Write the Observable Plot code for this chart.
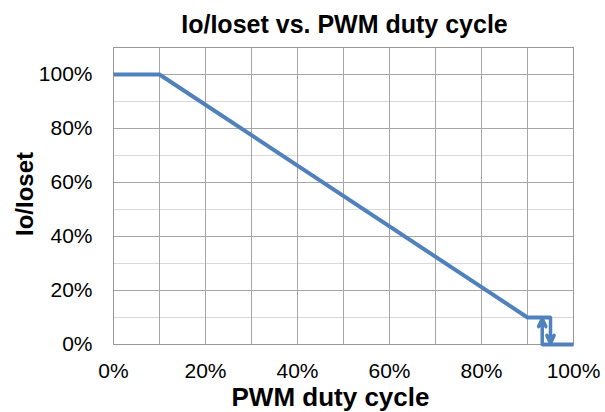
<!DOCTYPE html>
<html>
<head>
<meta charset="utf-8">
<script src="https://cdn.jsdelivr.net/npm/d3@7"></script>
<script src="https://cdn.jsdelivr.net/npm/@observablehq/plot@0.6"></script>
<style>
  html, body { margin: 0; padding: 0; background: #fff; }
</style>
</head>
<body>
<div id="chart"></div>
<script>
// Data
const duty = [0, 0.10, 0.90, 0.95];          // PWM duty cycle (main curve)
const ratio = [1.00, 1.00, 0.10, 0.10];      // Io/Ioset
const offDuty = [0.932, 1.00];               // bottom segment after switch-off
const offRatio = [0, 0];
const hystLow = 0.932;                        // turn-on threshold (arrow up)
const hystHigh = 0.95;                        // turn-off threshold (arrow down)
const hystLevel = 0.10;
const xTicks = [0, 0.2, 0.4, 0.6, 0.8, 1.0];
const yTicks = [0, 0.2, 0.4, 0.6, 0.8, 1.0];
const yMinor = [0.1, 0.3, 0.5, 0.7, 0.9];
const xGrid = [0.1, 0.2, 0.3, 0.4, 0.5, 0.6, 0.7, 0.8, 0.9];

const mainLine = duty.map((d, i) => ({x: d, y: ratio[i]}));
const offLine = offDuty.map((d, i) => ({x: d, y: offRatio[i]}));
const arrows = [
  {x1: hystHigh, y1: hystLevel, x2: hystHigh, y2: 0.005},
  {x1: hystLow, y1: 0, x2: hystLow, y2: hystLevel - 0.005}
];

const blue = "#4F81BD";
const font = "Liberation Sans, Arial, sans-serif";

const chart = Plot.plot({
  width: 605,
  height: 412,
  marginLeft: 113,
  marginRight: 32,
  marginTop: 47,
  marginBottom: 68,
  style: {fontFamily: font, color: "#000", background: "#fff", overflow: "visible"},
  x: {domain: [0, 1]},
  y: {domain: [0, 1.1]},
  marks: [
    Plot.gridY(yMinor, {stroke: "#d9d9d9", strokeOpacity: 1}),
    Plot.gridY(yTicks, {stroke: "#a6a6a6", strokeOpacity: 1}),
    Plot.gridX(xGrid, {stroke: "#a6a6a6", strokeOpacity: 1}),
    Plot.frame({stroke: "#999"}),
    Plot.axisX(xTicks, {tickSize: 0, tickPadding: 19, tickFormat: d3.format(".0%"), fontSize: 21, label: null}),
    Plot.axisY(yTicks, {tickSize: 0, tickPadding: 21, tickFormat: d3.format(".0%"), fontSize: 21, label: null}),
    Plot.line(mainLine, {x: "x", y: "y", stroke: blue, strokeWidth: 4, strokeLinejoin: "miter", strokeLinecap: "butt"}),
    Plot.line(offLine, {x: "x", y: "y", stroke: blue, strokeWidth: 4, strokeLinecap: "butt"}),
    Plot.arrow(arrows, {x1: "x1", y1: "y1", x2: "x2", y2: "y2", stroke: blue, strokeWidth: 3.5, headLength: 9, headAngle: 50}),
    Plot.text(["Io/Ioset vs. PWM duty cycle"], {frameAnchor: "top", lineAnchor: "middle", textAnchor: "middle", dx: 1, dy: -23, fontSize: 25, fontWeight: "bold", fill: "#000"}),
    Plot.text(["PWM duty cycle"], {frameAnchor: "bottom", lineAnchor: "middle", textAnchor: "middle", dx: -13, dy: 53, fontSize: 26, fontWeight: "bold", fill: "#000"}),
    Plot.text(["Io/Ioset"], {frameAnchor: "left", lineAnchor: "middle", textAnchor: "middle", dx: -88, dy: -2, rotate: -90, fontSize: 24, fontWeight: "bold", fill: "#000"})
  ]
});
document.getElementById("chart").appendChild(chart);
</script>
</body>
</html>
